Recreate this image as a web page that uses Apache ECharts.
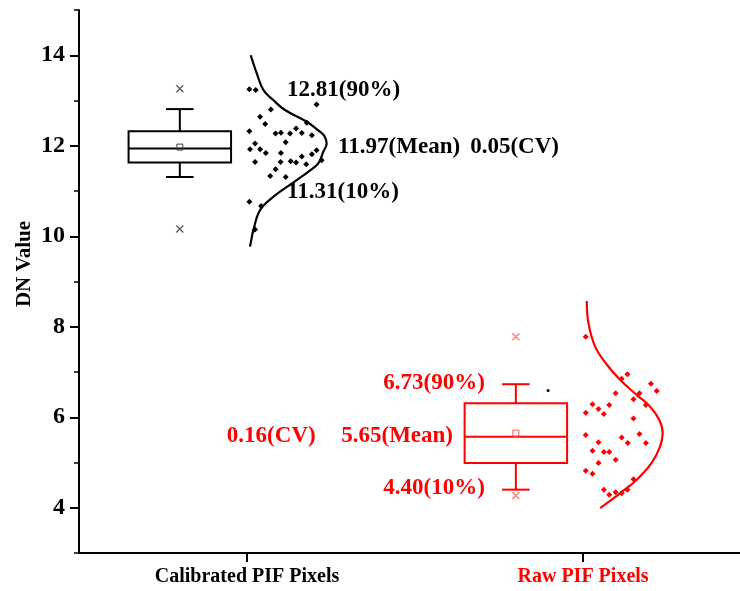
<!DOCTYPE html>
<html>
<head>
<meta charset="utf-8">
<script src="https://cdn.jsdelivr.net/npm/echarts@6/dist/echarts.min.js"></script>
<style>
html,body{margin:0;padding:0;background:#fff;}
#chart{width:740px;height:591px;}
</style>
</head>
<body>
<div id="chart"></div>
<script>
// ---------- data ----------
const categories = ['Calibrated PIF Pixels', 'Raw PIF Pixels'];
const categoryPos = [1, 2];
const yMajorTicks = [4, 6, 8, 10, 12, 14];

// box: [xCenter, p10, q1, median, q3, p90]
const calBox = [0.8, 11.31, 11.63, 11.94, 12.32, 12.81];
const rawBox = [1.8, 4.40, 4.99, 5.57, 6.31, 6.73];
const calMean = [[0.8, 11.97]];
const rawMean = [[1.8, 5.65]];
const calOutliers = [[0.8, 13.26], [0.8, 10.16]];
const rawOutliers = [[1.8, 7.78], [1.8, 4.27]];
const strayDot = [[1.896, 6.59]];

const calPoints = [
  [1.007,13.25],[1.026,13.23],[1.207,12.91],[1.071,12.80],[1.039,12.64],[1.178,12.51],
  [1.054,12.48],[1.007,12.32],[1.085,12.27],[1.101,12.29],[1.146,12.38],[1.128,12.27],
  [1.163,12.28],[1.193,12.23],[1.115,12.08],[1.024,12.05],[1.009,11.92],[1.039,11.92],
  [1.056,11.84],[1.101,11.84],[1.207,11.90],[1.193,11.81],[1.163,11.76],[1.130,11.66],
  [1.146,11.63],[1.176,11.59],[1.222,11.68],[1.024,11.64],[1.100,11.64],[1.085,11.48],
  [1.069,11.33],[1.115,11.31],[1.007,10.76],[1.042,10.67],[1.024,10.15]
];
const rawPoints = [
  [2.008,7.78],[2.115,6.85],[2.132,6.95],[2.202,6.74],[2.219,6.58],[2.097,6.53],
  [2.168,6.53],[2.150,6.40],[2.187,6.27],[2.028,6.29],[2.046,6.18],[2.078,6.27],
  [2.008,6.10],[2.062,6.07],[2.150,5.97],[2.008,5.61],[2.115,5.55],[2.168,5.63],
  [2.133,5.43],[2.187,5.43],[2.046,5.45],[2.028,5.26],[2.062,5.23],[2.078,5.23],
  [2.097,5.06],[2.046,4.99],[2.008,4.82],[2.028,4.75],[2.150,4.63],[2.062,4.40],
  [2.132,4.40],[2.078,4.29],[2.097,4.34],[2.115,4.32]
];
const calCurve = [
  [1.011,14.00],[1.029,13.60],[1.049,13.23],[1.078,13.01],[1.113,12.79],[1.178,12.53],
  [1.212,12.34],[1.229,12.23],[1.237,12.05],[1.227,11.87],[1.212,11.61],[1.185,11.44],
  [1.148,11.24],[1.078,10.87],[1.039,10.58],[1.019,10.14],[1.011,9.85],[1.009,9.77]
];
const rawCurve = [
  [2.011,8.57],[2.016,8.08],[2.036,7.56],[2.071,7.16],[2.110,6.83],[2.160,6.49],
  [2.199,6.24],[2.227,5.94],[2.237,5.65],[2.229,5.35],[2.204,4.99],[2.160,4.62],
  [2.110,4.32],[2.078,4.14],[2.051,3.99]
];
// annotation texts: [x, y, text, align]
const calNotes = [
  [1.119, 13.227, '12.81(90%)', 'left'],
  [1.271, 11.976, '11.97(Mean)', 'left'],
  [1.664, 11.976, '0.05(CV)', 'left'],
  [1.119, 10.98, '11.31(10%)', 'left']
];
const rawNotes = [
  [1.708, 6.753, '6.73(90%)', 'right'],
  [1.613, 5.59, '5.65(Mean)', 'right'],
  [0.940, 5.59, '0.16(CV)', 'left'],
  [1.708, 4.435, '4.40(10%)', 'right']
];

// ---------- styles ----------
const FONT = '"Liberation Serif", "DejaVu Serif", serif';
const BLACK = '#000000';
const RED = '#ff0000';
const BOX_W = 0.305, CAP_W = 0.082;

function boxRender(color) {
  return function (params, api) {
    const x = api.value(0);
    const c = v => api.coord([x, v]);
    const w = api.size([BOX_W, 0])[0];
    const cw = api.size([CAP_W, 0])[0];
    const p10 = c(api.value(1)), q1 = c(api.value(2)), med = c(api.value(3)),
          q3 = c(api.value(4)), p90 = c(api.value(5));
    const cx = p10[0];
    const st = { stroke: color, lineWidth: 2, fill: 'none' };
    return {
      type: 'group',
      children: [
        { type: 'rect', shape: { x: cx - w / 2, y: q3[1], width: w, height: q1[1] - q3[1] }, style: st },
        { type: 'line', shape: { x1: cx - w / 2, y1: med[1], x2: cx + w / 2, y2: med[1] }, style: st },
        { type: 'line', shape: { x1: cx, y1: q3[1], x2: cx, y2: p90[1] }, style: st },
        { type: 'line', shape: { x1: cx - cw / 2, y1: p90[1], x2: cx + cw / 2, y2: p90[1] }, style: st },
        { type: 'line', shape: { x1: cx, y1: q1[1], x2: cx, y2: p10[1] }, style: st },
        { type: 'line', shape: { x1: cx - cw / 2, y1: p10[1], x2: cx + cw / 2, y2: p10[1] }, style: st }
      ]
    };
  };
}

function notesSeries(notes, color) {
  return {
    type: 'scatter',
    symbolSize: 0,
    silent: true,
    z: 10,
    itemStyle: { opacity: 1 },
    data: notes.map(n => ({ value: [n[0], n[1]], name: n[2], label: { align: n[3] } })),
    label: {
      show: true,
      position: 'inside',
      formatter: p => p.name,
      verticalAlign: 'middle',
      color: color,
      opacity: 1,
      fontFamily: FONT,
      fontWeight: 'bold',
      fontSize: 23
    }
  };
}

const CROSS = 'path://M0,0L10,10M10,0L0,10';

const option = {
  animation: false,
  backgroundColor: '#ffffff',
  grid: { left: 79, right: 0, top: 10, bottom: 38, containLabel: false },
  xAxis: {
    type: 'value',
    min: 0.5,
    max: 2.467,
    splitLine: { show: false },
    axisLine: { show: true, lineStyle: { color: BLACK, width: 2 } },
    axisTick: { show: true, customValues: categoryPos, length: 9, lineStyle: { color: BLACK, width: 2 } },
    axisLabel: {
      show: true,
      customValues: categoryPos,
      margin: 14,
      formatter: v => (Math.abs(v - categoryPos[0]) < 1e-6 ? '{a|' + categories[0] + '}' : '{b|' + categories[1] + '}'),
      rich: {
        a: { color: BLACK, fontFamily: FONT, fontWeight: 'bold', fontSize: 20 },
        b: { color: RED, fontFamily: FONT, fontWeight: 'bold', fontSize: 20 }
      }
    }
  },
  yAxis: [
    {
      type: 'value',
      min: 3, max: 15, interval: 1,
      splitLine: { show: false },
      axisLine: { show: true, lineStyle: { color: BLACK, width: 2 } },
      axisTick: { show: true, length: 5, lineStyle: { color: BLACK, width: 1.5 } },
      axisLabel: {
        margin: 14,
        formatter: v => (yMajorTicks.indexOf(v) >= 0 ? String(v) : ''),
        color: BLACK, fontFamily: FONT, fontWeight: 'bold', fontSize: 24
      }
    },
    {
      type: 'value',
      position: 'left',
      min: 3, max: 15, interval: 1,
      splitLine: { show: false },
      axisLine: { show: false },
      axisTick: { show: true, customValues: yMajorTicks, length: 9, lineStyle: { color: BLACK, width: 2 } },
      axisLabel: { show: false }
    }
  ],
  graphic: [{
    type: 'text',
    x: 25, y: 264,
    rotation: Math.PI / 2,
    style: {
      text: 'DN Value', fill: BLACK, fontFamily: FONT, fontWeight: 'bold', fontSize: 21,
      textAlign: 'center', textVerticalAlign: 'middle'
    }
  }],
  series: [
    { type: 'custom', renderItem: boxRender(BLACK), data: [calBox], encode: { x: 0, y: [1, 2, 3, 4, 5] }, z: 3 },
    { type: 'custom', renderItem: boxRender(RED), data: [rawBox], encode: { x: 0, y: [1, 2, 3, 4, 5] }, z: 3 },
    { type: 'scatter', data: calMean, symbol: 'rect', symbolSize: 6,
      itemStyle: { color: 'rgba(0,0,0,0)', borderColor: '#444', borderWidth: 1, opacity: 1 }, z: 4 },
    { type: 'scatter', data: rawMean, symbol: 'rect', symbolSize: 6,
      itemStyle: { color: 'rgba(0,0,0,0)', borderColor: '#ff5555', borderWidth: 1, opacity: 1 }, z: 4 },
    { type: 'scatter', data: calOutliers, symbol: CROSS, symbolSize: 7,
      itemStyle: { color: 'rgba(0,0,0,0)', borderColor: '#555', borderWidth: 1.2, opacity: 1 } },
    { type: 'scatter', data: rawOutliers, symbol: CROSS, symbolSize: 7,
      itemStyle: { color: 'rgba(0,0,0,0)', borderColor: '#ff7777', borderWidth: 1.2, opacity: 1 } },
    { type: 'scatter', data: strayDot, symbol: 'circle', symbolSize: 3, itemStyle: { color: BLACK, opacity: 1 } },
    { type: 'scatter', data: calPoints, symbol: 'diamond', symbolSize: 6, itemStyle: { color: BLACK, opacity: 1 } },
    { type: 'scatter', data: rawPoints, symbol: 'diamond', symbolSize: 6, itemStyle: { color: RED, opacity: 1 } },
    { type: 'line', data: calCurve, smooth: 0.4, showSymbol: false, symbol: 'none',
      lineStyle: { color: BLACK, width: 2.2 } },
    { type: 'line', data: rawCurve, smooth: 0.4, showSymbol: false, symbol: 'none',
      lineStyle: { color: RED, width: 2.2 } },
    notesSeries(calNotes, BLACK),
    notesSeries(rawNotes, RED)
  ]
};

const chart = echarts.init(document.getElementById('chart'), null, { renderer: 'canvas' });
chart.setOption(option);
</script>
</body>
</html>
